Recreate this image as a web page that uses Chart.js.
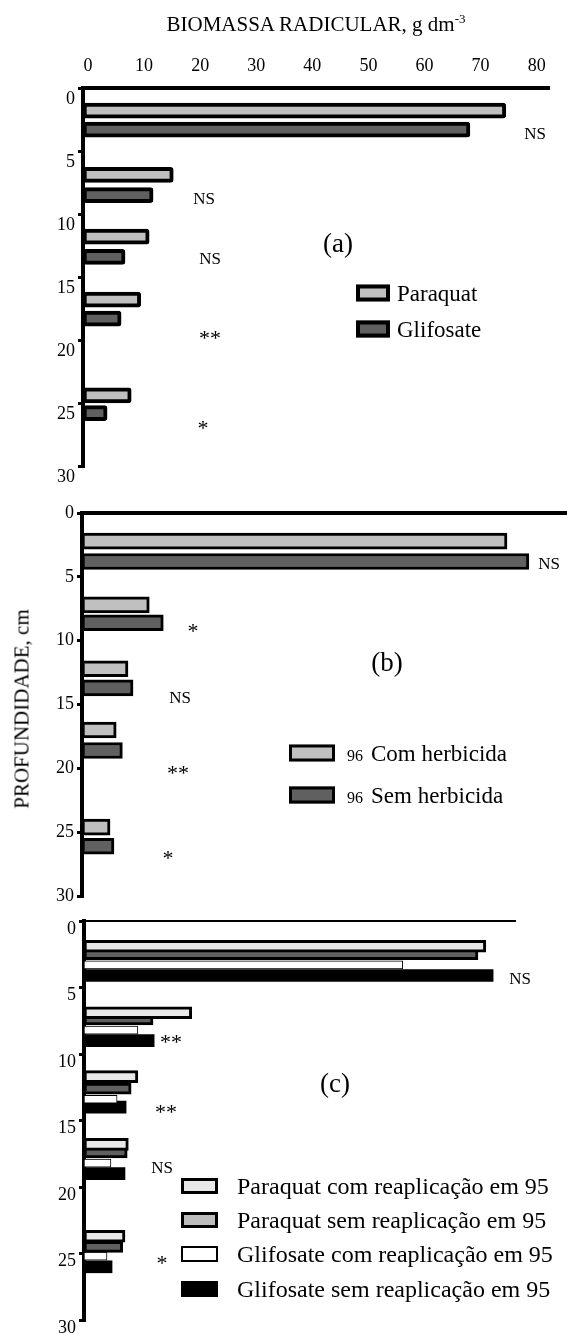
<!DOCTYPE html>
<html>
<head>
<meta charset="utf-8">
<script src="https://cdn.jsdelivr.net/npm/chart.js@4.4.1/dist/chart.umd.min.js"></script>
<style>
  body { margin: 0; background: #fff; }
  #page { position: relative; width: 567px; height: 1334px; overflow: hidden;
    font-family: 'Liberation Serif', 'Times New Roman', serif; color: #000; }
  canvas { position: absolute; left: 0; }
  .txt { position: absolute; transform: translate(-50%, -50%); white-space: nowrap; line-height: 1; }
  .row { position: absolute; display: flex; align-items: center; white-space: nowrap; line-height: 1; transform: translateY(-50%); }
  .box { box-sizing: border-box; border-style: solid; border-color: #000; }
</style>
</head>
<body>
<div id="page">
  <canvas id="chartA" width="567" height="495" style="top:0"></canvas>
  <canvas id="chartB" width="567" height="430" style="top:480px"></canvas>
  <canvas id="chartC" width="567" height="434" style="top:900px"></canvas>
  <div class="txt" style="left:316px; top:23px; font-size:21px">BIOMASSA RADICULAR, g dm<sup style="font-size:13px; vertical-align:8px">-3</sup></div>
  <div class="txt" style="left:22px; top:709px; font-size:21px; transform:translate(-50%,-50%) rotate(-90deg)">PROFUNDIDADE, cm</div>
</div>
<script>
const FONT = "'Liberation Serif', 'Times New Roman', serif"

const depthTicks = [0, 5, 10, 15, 20, 25, 30]
const biomassTicks = [0, 10, 20, 30, 40, 50, 60, 70, 80]

// (a) root biomass, g dm-3, and depth (cm) at the centre of each bar
const paraquatA = [74.5, 15.2, 10.9, 9.4, 7.7]
const paraquatDepthA = [1.8, 6.9, 11.8, 16.8, 24.4]
const glifosateA = [68.1, 11.6, 6.6, 5.9, 3.4]
const glifosateDepthA = [3.3, 8.5, 13.4, 18.3, 25.8]

// (b)
const comB = [74.7, 10.9, 7.1, 5.0, 3.9]
const comDepthB = [2.2, 7.2, 12.2, 17.0, 24.6]
const semB = [78.6, 13.4, 8.0, 6.1, 4.6]
const semDepthB = [3.8, 8.6, 13.7, 18.6, 26.1]

// (c)
const pcrC = [70.9, 18.5, 8.9, 7.2, 6.6]
const pcrDepthC = [1.9, 6.9, 11.7, 16.8, 23.7]
const psrC = [69.5, 11.6, 7.7, 7.0, 6.2]
const psrDepthC = [2.5, 7.4, 12.6, 17.4, 24.5]
const gcrC = [56.1, 8.9, 5.2, 4.1, 3.4]
const gcrDepthC = [3.3, 8.2, 13.4, 18.2, 25.2]
const gsrC = [72.2, 11.8, 6.8, 6.6, 4.3]
const gsrDepthC = [4.1, 9.0, 14.0, 19.0, 26.0]

const signifA = ['NS', 'NS', 'NS', '**', '*']
const signifB = ['NS', '*', 'NS', '**', '*']
const signifC = ['NS', '**', '**', 'NS', '*']

// where the significance marks sit on the page
const notePosA = [[535, 133], [204, 198], [210, 258], [210, 335], [203, 425]]
const notePosB = [[549, 563], [193, 628], [180, 697], [178, 770], [168, 855]]
const notePosC = [[520, 978], [171, 1039], [166, 1109], [162, 1167], [162, 1260]]

const bars = (label, values, depths, style) => ({
  label,
  data: values.map((v, i) => ({ x: v, y: depths[i] })),
  grouped: false,
  borderColor: '#000',
  borderSkipped: false,
  ...style,
})

const panel = (id, datasets, o) => new Chart(document.getElementById(id), {
  type: 'bar',
  data: { datasets },
  options: {
    responsive: false,
    animation: false,
    indexAxis: 'y',
    layout: { padding: { top: 0, left: 0, right: o.padRight, bottom: o.padBottom } },
    plugins: { legend: { display: false }, tooltip: { enabled: false } },
    scales: {
      x: {
        type: 'linear',
        position: 'top',
        min: o.xMin,
        max: o.xMax,
        grid: { display: false },
        border: { display: true, color: '#000', width: o.topLine },
        ticks: { display: o.showX, padding: 3, color: '#000', font: { family: FONT, size: 18 } },
        afterBuildTicks: (s) => { s.ticks = biomassTicks.map((v) => ({ value: v })) },
        afterFit: (s) => { s.height = o.top; s.paddingLeft = 0; s.paddingRight = 0 },
      },
      y: {
        type: 'linear',
        reverse: true,
        offset: false,
        min: 0,
        max: 30,
        grid: { drawOnChartArea: false, offset: false, color: '#000', lineWidth: 3, tickLength: 5 },
        border: { display: true, color: '#000', width: 4 },
        ticks: { padding: 3, labelOffset: o.labelOffset, color: '#000', font: { family: FONT, size: 18 } },
        afterBuildTicks: (s) => { s.ticks = depthTicks.map((v) => ({ value: v })) },
        afterFit: (s) => { s.width = o.left; s.paddingTop = 0; s.paddingBottom = 0 },
      },
    },
  },
})

const chartA = panel('chartA', [
  bars('Paraquat', paraquatA, paraquatDepthA, { backgroundColor: '#c0c0c0', borderWidth: 4, borderRadius: 3, barThickness: 15, base: -0.9 }),
  bars('Glifosate', glifosateA, glifosateDepthA, { backgroundColor: '#606060', borderWidth: 4, borderRadius: 3, barThickness: 15, base: -0.9 }),
], { xMin: -0.9, xMax: 82.2, top: 88, left: 83, padRight: 18, padBottom: 29, topLine: 4, showX: true, labelOffset: 11 })

const chartB = panel('chartB', [
  bars('96 Com herbicida', comB, comDepthB, { backgroundColor: '#c0c0c0', borderWidth: 3, barThickness: 16, base: -1.1 }),
  bars('96 Sem herbicida', semB, semDepthB, { backgroundColor: '#606060', borderWidth: 3, barThickness: 16, base: -1.1 }),
], { xMin: -1.1, xMax: 85.4, top: 33, left: 82, padRight: 0, padBottom: 14, topLine: 4, showX: false, labelOffset: 0 })

const chartC = panel('chartC', [
  bars('Paraquat com reaplicação em 95', pcrC, pcrDepthC, { backgroundColor: '#e8e8e8', borderWidth: 3, barThickness: 12, base: -0.7 }),
  bars('Paraquat sem reaplicação em 95', psrC, psrDepthC, { backgroundColor: '#606060', legendFill: '#bcbcbc', borderWidth: 3, barThickness: 11, base: -0.7 }),
  bars('Glifosate com reaplicação em 95', gcrC, gcrDepthC, { backgroundColor: '#ffffff', borderWidth: 1, barThickness: 8, base: -0.7 }),
  bars('Glifosate sem reaplicação em 95', gsrC, gsrDepthC, { backgroundColor: '#000000', borderWidth: 0, barThickness: 12, base: -0.7 }),
], { xMin: -0.7, xMax: 76.1, top: 21, left: 84, padRight: 52, padBottom: 14, topLine: 2, showX: false, labelOffset: 8 })

const page = document.getElementById('page')

const addText = (text, x, y, size) => {
  const el = document.createElement('div')
  el.className = 'txt'
  el.style.left = x + 'px'
  el.style.top = y + 'px'
  el.style.fontSize = size + 'px'
  el.textContent = text
  page.appendChild(el)
}

const addNotes = (marks, pos) => marks.forEach((m, i) => {
  const star = m.includes('*')
  addText(m, pos[i][0], pos[i][1] + (star ? 3 : 0), star ? 22 : 17)
})

addNotes(signifA, notePosA)
addNotes(signifB, notePosB)
addNotes(signifC, notePosC)
addText('(a)', 338, 243, 27)
addText('(b)', 387, 662, 27)
addText('(c)', 335, 1083, 27)

// html legend built from the chart's own datasets
const addLegend = (chart, o) => chart.data.datasets.forEach((ds, i) => {
  const row = document.createElement('div')
  row.className = 'row'
  row.style.left = o.x + 'px'
  row.style.top = o.ys[i] + 'px'
  const box = document.createElement('div')
  box.className = 'box'
  box.style.width = o.boxW + 'px'
  box.style.height = o.boxH + 'px'
  box.style.background = ds.legendFill || ds.backgroundColor
  box.style.borderWidth = Math.max(ds.borderWidth, 2) + 'px'
  row.appendChild(box)
  const label = document.createElement('span')
  label.style.marginLeft = o.gap + 'px'
  label.style.fontSize = o.size + 'px'
  const m = ds.label.match(/^(\d+) (.*)$/)
  if (m) {
    const yr = document.createElement('span')
    yr.style.fontSize = '16px'
    yr.style.marginRight = '8px'
    yr.textContent = m[1]
    label.appendChild(yr)
    label.appendChild(document.createTextNode(m[2]))
  } else {
    label.textContent = ds.label
  }
  row.appendChild(label)
  page.appendChild(row)
})

addLegend(chartA, { x: 356, ys: [293, 329], boxW: 34, boxH: 17, gap: 7, size: 23 })
addLegend(chartB, { x: 289, ys: [753, 795], boxW: 46, boxH: 17, gap: 12, size: 23 })
addLegend(chartC, { x: 181, ys: [1186, 1220, 1254, 1289], boxW: 37, boxH: 16, gap: 19, size: 24 })
</script>
</body>
</html>
